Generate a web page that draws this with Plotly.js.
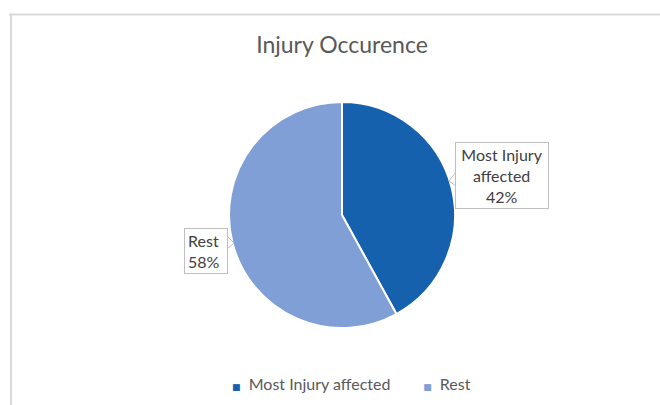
<!DOCTYPE html>
<html>
<head>
<meta charset="utf-8">
<script src="https://cdn.plot.ly/plotly-3.0.1.min.js"></script>
<style>html,body{margin:0;padding:0;background:#fff;}#chart{width:660px;height:405px;}</style>
</head>
<body>
<div id="chart"></div>
<script>
const categories = ["Most Injury affected", "Rest"];
const values = [42, 58];
const colors = ["#1661AD", "#7F9FD6"];
const titleText = "Injury Occurence";

const total = values.reduce((a, b) => a + b, 0);
const pct = values.map(v => Math.round(v / total * 100) + "%");
const labelTexts = [
  "Most Injury<br>affected<br>" + pct[0],
  categories[1] + "<br>" + pct[1]
];

const W = 660, H = 405;
const px = x => x / W;
const py = y => 1 - y / H;

const trace = {
  type: "pie",
  labels: categories,
  values: values,
  sort: false,
  direction: "clockwise",
  rotation: 0,
  textinfo: "none",
  marker: { colors: colors, line: { color: "#ffffff", width: 2 } },
  domain: { x: [px(229), px(455)], y: [py(328), py(102)] },
  hoverinfo: "label+percent",
  showlegend: false
};

const font = "Lato, 'Open Sans', 'DejaVu Sans', sans-serif";

const legendText = categories.map((c, i) =>
  `<span style="color:${colors[i]};font-size:9px">■</span>  ${c}`).join("        ");

const layout = {
  width: W, height: H,
  margin: { l: 0, r: 0, t: 0, b: 0 },
  paper_bgcolor: "#ffffff",
  font: { family: font, color: "#404040" },
  title: {
    text: titleText,
    font: { size: 23, color: "#595959", family: font },
    x: px(342), xanchor: "center", y: py(45), yanchor: "middle"
  },
  showlegend: false,
  annotations: [
    { text: labelTexts[0], x: px(502), y: py(175.5), xref: "paper", yref: "paper",
      showarrow: false, font: { size: 16, color: "#404040" }, bgcolor: "#ffffff",
      bordercolor: "#bfbfbf", borderwidth: 1, borderpad: 3, align: "center",
      xanchor: "center", yanchor: "middle", width: 86, height: 59 },
    { text: labelTexts[1], x: px(206), y: py(251), xref: "paper", yref: "paper",
      showarrow: false, font: { size: 16, color: "#404040" }, bgcolor: "#ffffff",
      bordercolor: "#bfbfbf", borderwidth: 1, borderpad: 3, align: "left",
      xanchor: "center", yanchor: "middle", width: 36, height: 38 },
    { text: legendText, x: px(351), y: py(383), xref: "paper", yref: "paper",
      showarrow: false, font: { size: 16, color: "#595959" },
      xanchor: "center", yanchor: "middle" }
  ],
  shapes: [
    { type: "line", xref: "paper", yref: "paper", x0: px(9), x1: 1, y0: py(14.5), y1: py(14.5),
      line: { color: "#d9d9d9", width: 2 } },
    { type: "line", xref: "paper", yref: "paper", x0: px(11), x1: px(11), y0: py(14.5), y1: 0,
      line: { color: "#d9d9d9", width: 2 } },
    { type: "path", xref: "paper", yref: "paper",
      path: `M ${px(456)} ${py(172)} L ${px(449)} ${py(181)} L ${px(456)} ${py(186)}`,
      fillcolor: "#ffffff", line: { color: "#bfbfbf", width: 1 } },
    { type: "path", xref: "paper", yref: "paper",
      path: `M ${px(227)} ${py(236)} L ${px(234)} ${py(243)} L ${px(227)} ${py(249)}`,
      fillcolor: "#ffffff", line: { color: "#bfbfbf", width: 1 } }
  ]
};

Plotly.newPlot("chart", [trace], layout, { displayModeBar: false, staticPlot: true });
</script>
</body>
</html>
